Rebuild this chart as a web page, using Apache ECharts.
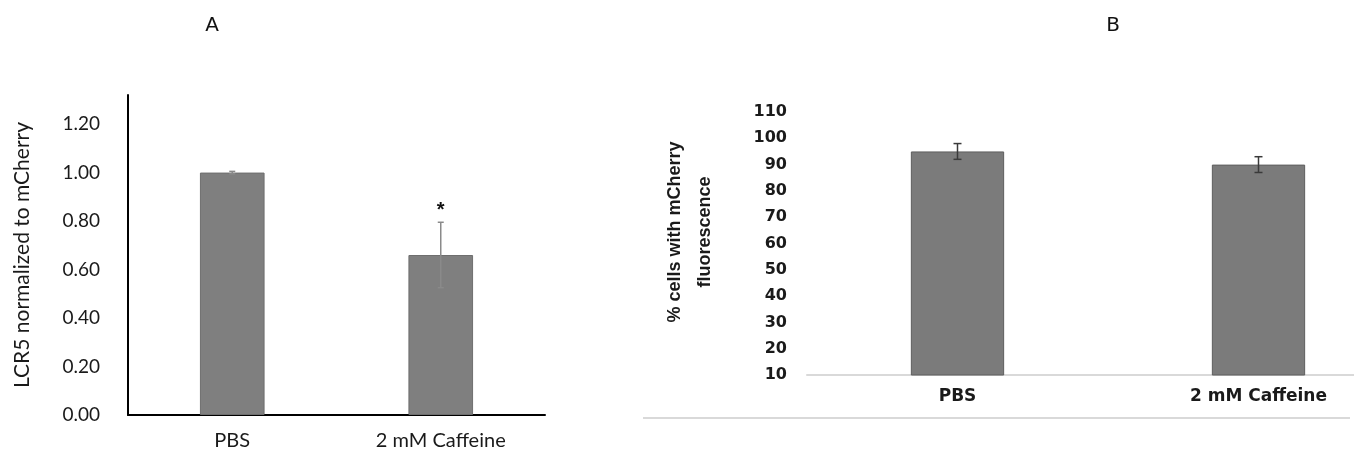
<!DOCTYPE html>
<html>
<head>
<meta charset="utf-8">
<script src="https://cdn.jsdelivr.net/npm/echarts@6/dist/echarts.min.js"></script>
<style>
  html, body { margin: 0; padding: 0; background: #fff; }
  #chart { width: 1354px; height: 459px; }
</style>
</head>
<body>
<div id="chart"></div>
<script>
// Panel A: LCR5 relative expression
const groups = ['PBS', '2 mM Caffeine'];
const lcr5Mean = [1.00, 0.66];
const lcr5Err = [0.005, 0.135];
const lcr5Sig = ['', '*'];
const lcr5Ticks = [0, 0.2, 0.4, 0.6, 0.8, 1.0, 1.2];

// Panel B: percentage of cells showing mCherry
const mcherryMean = [95, 90];
const mcherryErr = [3, 3];
const mcherryTicks = [10, 20, 30, 40, 50, 60, 70, 80, 90, 100, 110];

const chart = echarts.init(document.getElementById('chart'), null, { renderer: 'canvas' });

function errorBars(xAxisIndex, yAxisIndex, mean, err, opts) {
  return {
    type: 'custom',
    xAxisIndex, yAxisIndex,
    z: 5,
    data: mean.map((m, i) => [i, m - err[i], m + err[i], opts.sig ? opts.sig[i] : '']),
    renderItem(params, api) {
      const x = api.value(0);
      const lo = api.coord([x, api.value(1)]);
      const hi = api.coord([x, api.value(2)]);
      const half = opts.cap / 2;
      const style = { stroke: opts.color, lineWidth: opts.width };
      const children = [
        { type: 'line', shape: { x1: lo[0], y1: lo[1], x2: hi[0], y2: hi[1] }, style },
        { type: 'line', shape: { x1: hi[0] - half, y1: hi[1], x2: hi[0] + half, y2: hi[1] }, style },
        { type: 'line', shape: { x1: lo[0] - half, y1: lo[1], x2: lo[0] + half, y2: lo[1] }, style }
      ];
      const mark = api.value(3);
      if (mark) {
        children.push({
          type: 'text',
          style: {
            text: mark, x: hi[0], y: hi[1] - 12,
            align: 'center', verticalAlign: 'middle',
            fill: '#111', font: 'bold 20px "Liberation Sans"'
          }
        });
      }
      return { type: 'group', children };
    }
  };
}

const option = {
  backgroundColor: '#fff',
  animation: false,
  title: [
    { text: 'A', left: 207, top: 11, textAlign: 'center',
      textStyle: { fontFamily: 'DejaVu Sans', fontWeight: 'normal', fontSize: 20, color: '#111' } },
    { text: 'B', left: 1108, top: 11, textAlign: 'center',
      textStyle: { fontFamily: 'DejaVu Sans', fontWeight: 'normal', fontSize: 20, color: '#111' } }
  ],
  grid: [
    { left: 128, top: 95, width: 417, height: 320, outerBoundsMode: 'none' },
    { left: 807, top: 112, width: 602, height: 263, outerBoundsMode: 'none' }
  ],
  xAxis: [
    {
      gridIndex: 0, type: 'category', data: groups,
      axisLine: { lineStyle: { color: '#000', width: 2 } },
      axisTick: { show: false },
      axisLabel: { margin: 16, color: '#1a1a1a', fontFamily: 'Lato', fontSize: 20 }
    },
    {
      gridIndex: 1, type: 'category', data: groups,
      axisLine: { lineStyle: { color: '#d9d9d9', width: 2 } },
      axisTick: { show: false },
      axisLabel: { margin: 13, color: '#1a1a1a', fontFamily: 'DejaVu Sans', fontWeight: 'bold', fontSize: 17 }
    }
  ],
  yAxis: [
    {
      gridIndex: 0, type: 'value', min: 0, max: 1.32, interval: 0.2,
      name: 'LCR5 normalized to mCherry', nameLocation: 'middle', nameGap: 95,
      nameTextStyle: { fontFamily: 'Lato', fontSize: 21, color: '#1a1a1a' },
      axisLine: { show: true, lineStyle: { color: '#000', width: 2 } },
      axisTick: { show: false },
      splitLine: { show: false },
      axisLabel: {
        margin: 28, color: '#1a1a1a', fontFamily: 'Lato', fontSize: 19,
        formatter: v => (lcr5Ticks.some(t => Math.abs(t - v) < 1e-6) ? v.toFixed(2) : '')
      }
    },
    {
      gridIndex: 1, type: 'value', min: 10, max: 110, interval: 10,
      axisLine: { show: false },
      axisTick: { show: false },
      splitLine: { show: false },
      axisLabel: {
        margin: 20, color: '#1a1a1a', fontFamily: 'DejaVu Sans', fontWeight: 'bold', fontSize: 16,
        formatter: v => (mcherryTicks.includes(v) ? String(v) : '')
      }
    }
  ],
  series: [
    {
      type: 'bar', xAxisIndex: 0, yAxisIndex: 0, data: lcr5Mean, barWidth: '31%',
      itemStyle: { color: '#7f7f7f', borderColor: '#6e6e6e', borderWidth: 1 }
    },
    errorBars(0, 0, lcr5Mean, lcr5Err, { color: '#8a8a8a', width: 1.5, cap: 6, sig: lcr5Sig }),
    {
      type: 'bar', xAxisIndex: 1, yAxisIndex: 1, data: mcherryMean, barWidth: '31%',
      itemStyle: { color: '#7b7b7b', borderColor: '#5e5e5e', borderWidth: 1 }
    },
    errorBars(1, 1, mcherryMean, mcherryErr, { color: '#3a3a3a', width: 1.5, cap: 8 })
  ],
  graphic: [
    // y-axis title of panel B, two lines, rotated
    { type: 'text', x: 690, y: 232, rotation: Math.PI / 2,
      style: { text: '% cells with mCherry\nfluorescence', align: 'center', verticalAlign: 'middle',
        font: 'bold 18px "Liberation Sans"', lineHeight: 30, fill: '#1a1a1a' } },
    // lower frame line of panel B
    { type: 'line', shape: { x1: 643, y1: 418, x2: 1350, y2: 418 },
      style: { stroke: '#d9d9d9', lineWidth: 2 } }
  ]
};

chart.setOption(option);
</script>
</body>
</html>
